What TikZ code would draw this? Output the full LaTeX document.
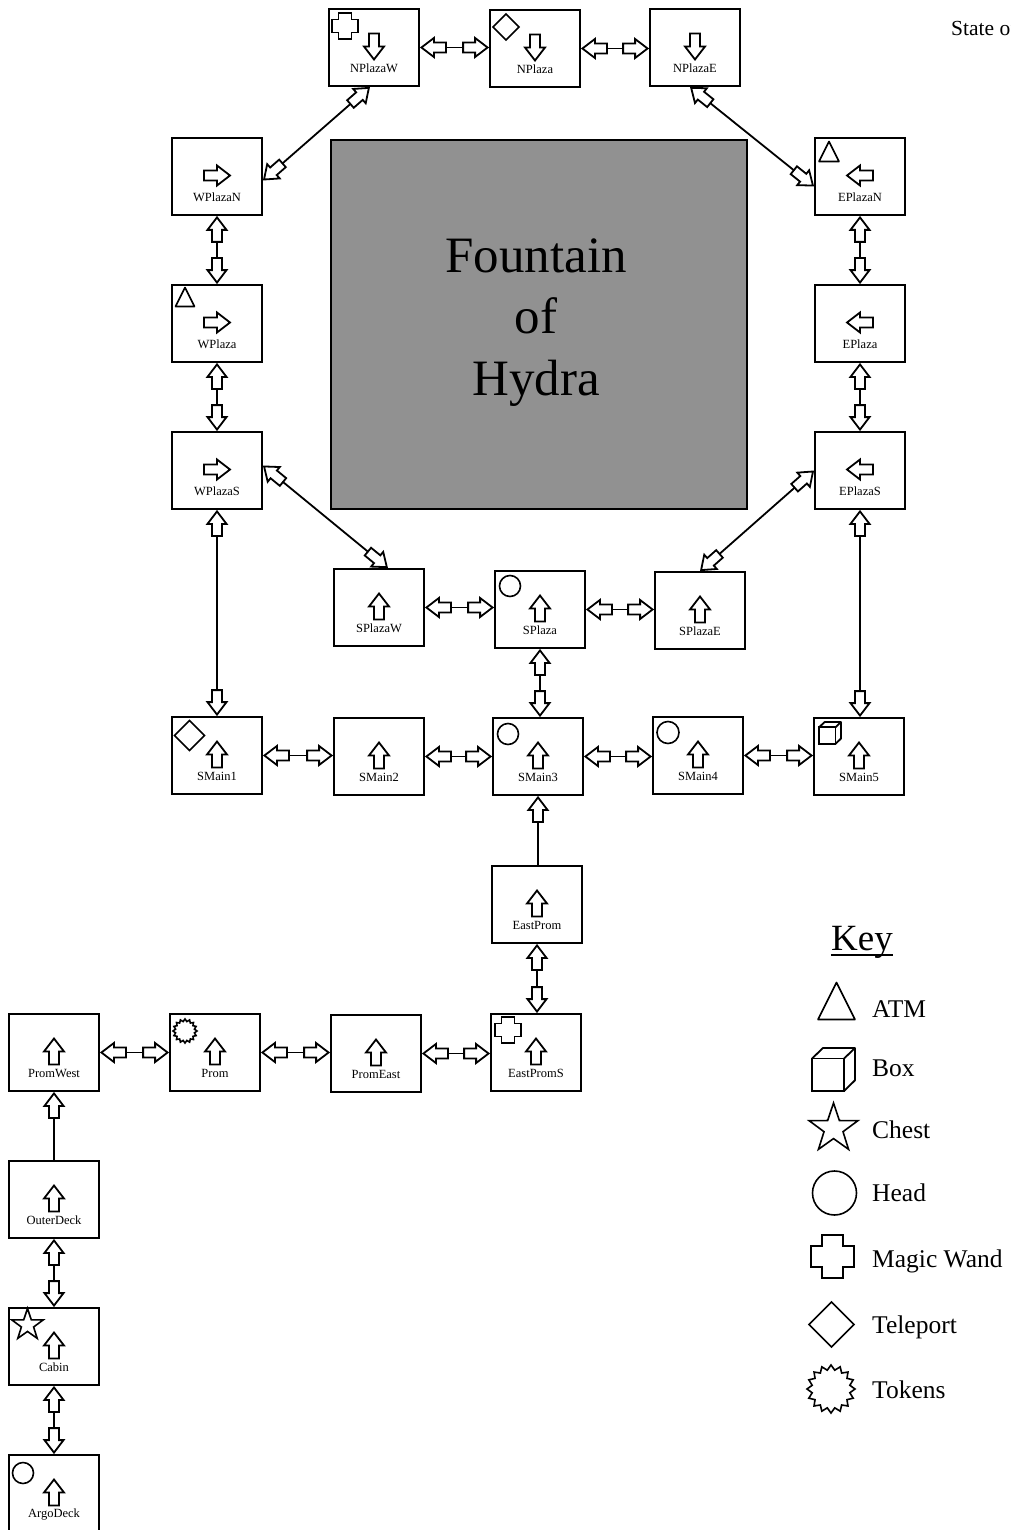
\documentclass[tikz,border=0pt]{standalone}
\usepackage{fontspec}
\setmainfont{Liberation Serif}
\usetikzlibrary{arrows.meta,calc}
\newcommand{\RoomFont}{\fontsize{12.5}{14}\selectfont}
\newcommand{\KeyFont}{\fontsize{25.5}{30}\selectfont}
\pgfdeclarearrow{
  name=Hollow,
  setup code={
    \pgfarrowssettipend{0pt}
    \pgfarrowssetbackend{-26pt}
    \pgfarrowssetlineend{-25.5pt}
    \pgfarrowssetvisualbackend{-26pt}
  },
  drawing code={
    \pgfpathmoveto{\pgfqpoint{-1.5pt}{0pt}}
    \pgfpathlineto{\pgfqpoint{-14pt}{9.5pt}}
    \pgfpathlineto{\pgfqpoint{-14pt}{5pt}}
    \pgfpathlineto{\pgfqpoint{-26pt}{5pt}}
    \pgfpathlineto{\pgfqpoint{-26pt}{-5pt}}
    \pgfpathlineto{\pgfqpoint{-14pt}{-5pt}}
    \pgfpathlineto{\pgfqpoint{-14pt}{-9.5pt}}
    \pgfpathclose
    \pgfusepathqstroke
  }
}
\tikzset{
  room/.style={draw,line width=1.8pt,minimum width=90pt,minimum height=77pt,inner sep=0pt},
  roomlabel/.style={font=\RoomFont,inner sep=0pt},
  keylabel/.style={font=\KeyFont,anchor=base west,inner sep=0pt},
  link/.style={line width=1.8pt,>=Hollow},
  pics/dirarrow/.style={code={\draw[line width=1.8pt,fill=white] (13,0) -- (0,10) -- (0,5) -- (-13,5) -- (-13,-5) -- (0,-5) -- (0,-10) -- cycle;}},
  pics/atm/.style={code={\draw[line width=1.6pt,line join=round] (0,-1) -- (1,1) -- (-1,1) -- cycle;}},
  pics/box/.style={code={
    \draw[line width=1.8pt] (-1,-.51) rectangle (.49,1);
    \draw[line width=1.8pt,line join=round] (-1,-.51) -- (-.49,-1) -- (1,-1) -- (1,.5) -- (.49,1) (.49,-.51) -- (1,-1);}},
  pics/chest/.style={code={
    \draw[line width=1.6pt] (-90:1) -- (-54:.39) -- (-18:1) -- (18:.39) -- (54:1) -- (90:.39) -- (126:1) -- (162:.39) -- (198:1) -- (234:.39) -- cycle;}},
  pics/head/.style={code={\draw[line width=1.6pt] (0,0) circle (1);}},
  pics/wand/.style={code={
    \draw[line width=1.8pt] (-.5,-1) -- (.5,-1) -- (.5,-.5) -- (1,-.5) -- (1,.5) -- (.5,.5) -- (.5,1) -- (-.5,1) -- (-.5,.5) -- (-1,.5) -- (-1,-.5) -- (-.5,-.5) -- cycle;}},
  pics/teleport/.style={code={\draw[line width=1.6pt] (0,-1) -- (1,0) -- (0,1) -- (-1,0) -- cycle;}},
  pics/tokens/.style={code={
    \draw[line width=1.6pt] (0:1)
    \foreach \t in {1,...,15} { -- (\t*22.5-11.25:.8) -- (\t*22.5:1) } -- (348.75:.8) -- cycle;}}
}

\begin{document}
\begin{tikzpicture}[x=1pt,y=-1pt,line cap=butt]
  \useasboundingbox (0,0) rectangle (1011,1530);
  \node[draw,line width=1.8pt,fill=black!43,minimum width=416pt,minimum height=369pt,inner sep=0pt] (Fountain) at (539,324.5) {};
  \node[align=center,inner sep=0pt,font=\fontsize{51}{61.5}\selectfont] (FountainText) at (536,322.5) {Fountain\\of\\Hydra};
  \node[font=\fontsize{21.5}{26}\selectfont,anchor=west,inner sep=0pt] (Title) at (951,28) {State of};
  % rooms: name, centre, direction of the arrow inside
  \foreach \name/\x/\y/\dir in {NPlazaW/374/47.5/-90,NPlaza/535/48.5/-90,NPlazaE/695/47.5/-90,
    WPlazaN/217/176.5/0,WPlaza/217/323.5/0,WPlazaS/217/470.5/0,
    EPlazaN/860/176.5/180,EPlaza/860/323.5/180,EPlazaS/860/470.5/180,
    SPlazaW/379/607.5/90,SPlaza/540/609.5/90,SPlazaE/700/610.5/90,
    SMain1/217/755.5/90,SMain2/379/756.5/90,SMain3/538/756.5/90,SMain4/698/755.5/90,SMain5/859/756.5/90,
    EastProm/537/904.5/90,EastPromS/536/1052.5/90,PromEast/376/1053.5/90,Prom/215/1052.5/90,PromWest/54/1052.5/90,
    OuterDeck/54/1199.5/90,Cabin/54/1346.5/90,ArgoDeck/54/1493.5/90}
  {
    \node[room] (\name) at (\x,\y) {};
    \node[roomlabel] (\name Label) at ([yshift=-21pt]\name.center) {\name};
    \pic[rotate=\dir] at ([yshift=1pt]\name.center) {dirarrow};
  }
  % what lies in each room
  \foreach \icon/\size/\x/\y in {wand/13/345/26,teleport/13/506/27,atm/10/829/151.5,atm/9.5/185/297,
    head/10.5/510/586,teleport/15/189.5/735.5,head/10.5/508/734,head/11/668/732.5,box/11/830/733,
    tokens/12/185/1031,wand/13/508/1030,chest/16.5/27.5/1325,head/10.5/23/1473}
  \pic[scale=\size] at (\x,\y) {\icon};
  % exits
  \foreach \a/\b in {NPlazaW/NPlaza,NPlaza/NPlazaE,SPlazaW/SPlaza,SPlaza/SPlazaE,SMain1/SMain2,
    SMain2/SMain3,SMain3/SMain4,SMain4/SMain5,PromWest/Prom,Prom/PromEast,PromEast/EastPromS}
  \draw[link,<->,yshift=.5pt] (\a.east) -- (\a.east -| \b.west);
  \foreach \a/\b in {WPlazaN/WPlaza,WPlaza/WPlazaS,WPlazaS/SMain1,EPlazaN/EPlaza,EPlaza/EPlazaS,
    EPlazaS/SMain5,SPlaza/SMain3,EastProm/EastPromS,OuterDeck/Cabin,Cabin/ArgoDeck}
  \draw[link,<->] (\a.south) -- (\a.south |- \b.north);
  \draw[link,<-] (SMain3.south) -- (SMain3.south |- EastProm.north);
  \draw[link,<-] (PromWest.south) -- (PromWest.south |- OuterDeck.north);
  \draw[link,<->] ([xshift=-4pt]NPlazaW.south) -- ([yshift=-4pt]WPlazaN.east);
  \draw[link,<->] ([xshift=-5pt]NPlazaE.south) -- ([yshift=-10pt]EPlazaN.west);
  \draw[link,<->] ([yshift=5pt]WPlazaS.east) -- ([xshift=9pt]SPlazaW.north);
  \draw[link,<->] (EPlazaS.west) -- (SPlazaE.north);
  % key
  \node[font=\fontsize{37}{44}\selectfont,inner sep=0pt,anchor=base] (Key) at (862,950) {Key};
  \draw[line width=1.5pt] ([yshift=-5pt]Key.base west) -- ([yshift=-5pt]Key.base east);
  \foreach \icon/\size/\x/\y/\ly/\txt in {atm/18.5/836.5/1001/1017/ATM,box/21.5/833.5/1069.5/1076/Box,
    chest/25.6/833.5/1128.6/1138/Chest,head/22/834.5/1193/1201/Head,wand/21.5/832.5/1256.5/1267/Magic Wand,
    teleport/22.5/831.5/1324.5/1333/Teleport,tokens/24/831/1389/1398/Tokens}
  {
    \pic[scale=\size] at (\x,\y) {\icon};
    \node[keylabel] (\icon Key) at (872,\ly) {\txt};
  }
\end{tikzpicture}
\end{document}
